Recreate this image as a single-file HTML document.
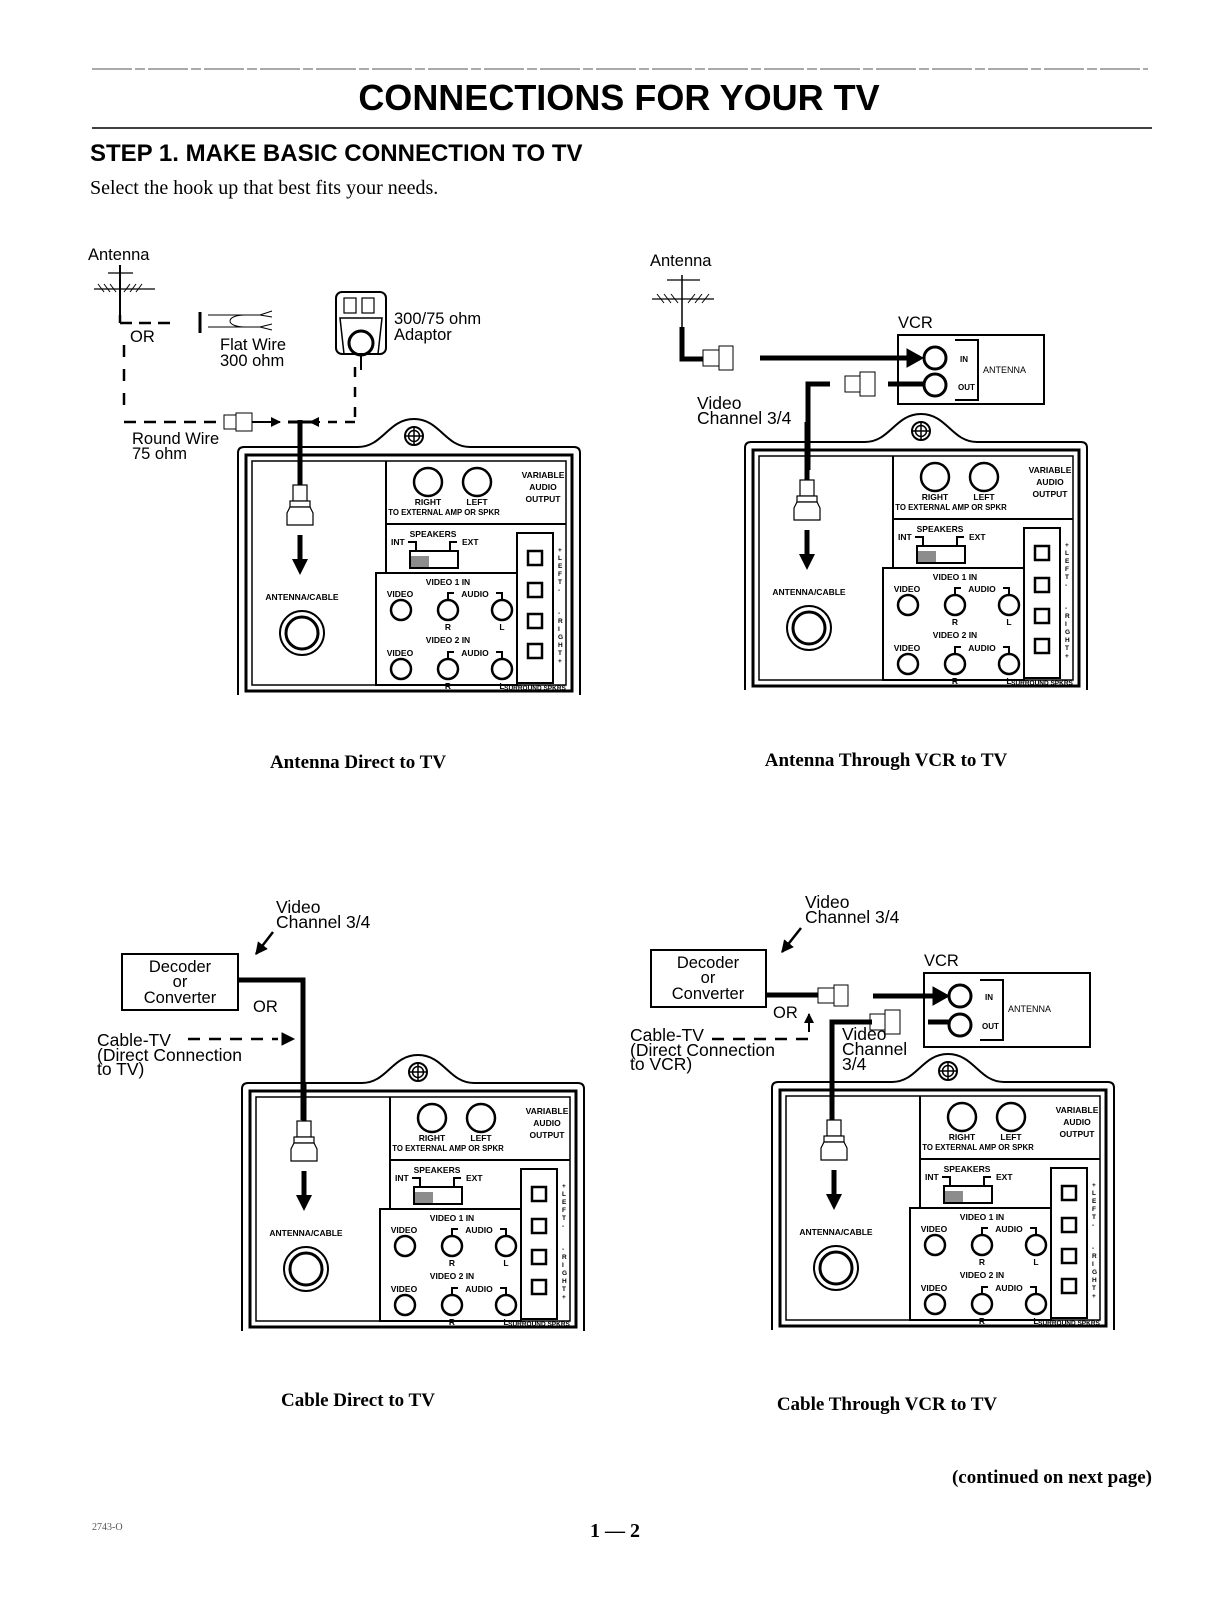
<!DOCTYPE html>
<html><head><meta charset="utf-8"><style>
html,body{margin:0;padding:0;background:#fff}
svg{display:block}
.s{font-family:"Liberation Sans",sans-serif}
.r{font-family:"Liberation Serif",serif}
.t text{font-size:8.5px}
.t text.sm{font-size:7.8px}
.t text.xs{font-size:6.5px}
.lb{font-size:16.5px}
.lb2{font-size:17.5px}
</style></head><body>
<svg width="1210" height="1604" viewBox="0 0 1210 1604" xmlns="http://www.w3.org/2000/svg">
<defs>
<marker id="ah" viewBox="0 0 10 10" refX="9" refY="5" markerWidth="5" markerHeight="5" orient="auto"><path d="M0 0L10 5L0 10z" fill="#000"/></marker>
</defs>
<!-- header -->
<line x1="92" y1="69" x2="1148" y2="69" stroke="#555" stroke-width="1" stroke-dasharray="40 3 10 3"/>
<text x="619" y="110" text-anchor="middle" class="s" font-size="36" font-weight="bold">CONNECTIONS FOR YOUR TV</text>
<line x1="92" y1="128" x2="1152" y2="128" stroke="#000" stroke-width="1.5"/>
<text x="90" y="161" class="s" font-size="24" font-weight="bold">STEP 1. MAKE BASIC CONNECTION TO TV</text>
<text x="90" y="194" class="r" font-size="20">Select the hook up that best fits your needs.</text>

<g class="s" fill="none" stroke="#000">
<!-- ===== Diagram 1 extras ===== -->
<text x="88" y="260" class="lb" fill="#000" stroke="none">Antenna</text>
<line x1="120" y1="265" x2="120" y2="315" stroke-width="2"/>
<line x1="108" y1="273" x2="133" y2="273" stroke-width="1.2"/>
<line x1="94" y1="289" x2="155" y2="289" stroke-width="1.2"/>
<path d="M98 284l6 8M104 284l6 8M110 284l6 8M124 292l6-8M130 292l6-8M136 292l6-8" stroke-width="1"/>
<path d="M120 323H175" stroke-width="2.5" stroke-dasharray="12 7"/>
<line x1="120" y1="323" x2="120" y2="315" stroke-width="2.5"/>
<line x1="200" y1="312" x2="200" y2="333" stroke-width="3"/>
<path d="M208 315H260M208 327H260M260 315l12-4M260 315l12 2M260 327l12-3M260 327l12 3M245 315c-20 0-20 12 0 12" stroke-width="1"/>
<text x="130" y="342" class="lb" fill="#000" stroke="none">OR</text>
<text x="220" y="350" class="lb" fill="#000" stroke="none">Flat Wire</text>
<text x="220" y="366" class="lb" fill="#000" stroke="none">300 ohm</text>
<path d="M124 345V408" stroke-width="2.5" stroke-dasharray="12 12"/>
<path d="M124 422H220" stroke-width="2.5" stroke-dasharray="12 8"/>
<rect x="224" y="415" width="12" height="14" stroke-width="1"/>
<rect x="236" y="413" width="16" height="18" stroke-width="1"/>
<line x1="252" y1="422" x2="280" y2="422" stroke-width="2" marker-end="url(#ah)"/>
<line x1="355" y1="367" x2="355" y2="422" stroke-width="2.5" stroke-dasharray="10 10"/>
<path d="M355 422H328" stroke-width="2.5" stroke-dasharray="10 8"/>
<line x1="320" y1="422" x2="310" y2="422" stroke-width="2" marker-end="url(#ah)"/>
<line x1="300" y1="420" x2="300" y2="485" stroke-width="5"/>
<line x1="288" y1="422" x2="312" y2="422" stroke-width="3"/>
<rect x="336" y="292" width="50" height="62" rx="6" stroke-width="2"/>
<rect x="344" y="298" width="12" height="15" stroke-width="1.2"/><rect x="362" y="298" width="12" height="15" stroke-width="1.2"/>
<path d="M340 318H382L378 354H344Z" stroke-width="1.5"/>
<circle cx="361" cy="343" r="12" stroke-width="3"/>
<line x1="361" y1="355" x2="361" y2="370" stroke-width="2"/>
<text x="394" y="324" class="lb" fill="#000" stroke="none">300/75 ohm</text>
<text x="394" y="340" class="lb" fill="#000" stroke="none">Adaptor</text>
<text x="132" y="444" class="lb" fill="#000" stroke="none">Round Wire</text>
<text x="132" y="459" class="lb" fill="#000" stroke="none">75 ohm</text>

<!-- ===== Diagram 2 extras ===== -->
<text x="650" y="266" class="lb" fill="#000" stroke="none">Antenna</text>
<line x1="682" y1="275" x2="682" y2="330" stroke-width="1.5"/>
<line x1="667" y1="280" x2="700" y2="280" stroke-width="1.2"/>
<line x1="652" y1="299" x2="714" y2="299" stroke-width="1.2"/>
<path d="M657 294l7 9M664 294l7 9M671 294l7 9M688 303l7-9M695 303l7-9M702 303l7-9" stroke-width="1"/>
<path d="M682 327V359H703" stroke-width="5"/>
<rect x="703" y="350" width="16" height="16" stroke-width="1"/>
<rect x="719" y="346" width="14" height="24" stroke-width="1"/>
<line x1="760" y1="358" x2="920" y2="358" stroke-width="5"/>
<polygon points="907,349 923,358 907,367" fill="#000"/>
<rect x="898" y="335" width="146" height="69" stroke-width="2"/>
<circle cx="935" cy="358" r="11" stroke-width="3"/>
<circle cx="935" cy="385" r="11" stroke-width="3"/>
<path d="M955 340H978V400H955" stroke-width="2"/>
<text x="960" y="362" font-size="8" font-weight="bold" fill="#000" stroke="none">IN</text>
<text x="958" y="390" font-size="8" font-weight="bold" fill="#000" stroke="none">OUT</text>
<text x="983" y="373" font-size="9" fill="#000" stroke="none">ANTENNA</text>
<text x="898" y="328" class="lb" fill="#000" stroke="none">VCR</text>
<line x1="888" y1="384" x2="924" y2="384" stroke-width="5"/>
<rect x="845" y="376" width="15" height="16" stroke-width="1"/>
<rect x="860" y="372" width="15" height="24" stroke-width="1"/>
<path d="M830 384H808V470" stroke-width="5"/>
<text x="697" y="409" class="lb2" fill="#000" stroke="none">Video</text>
<text x="697" y="424" class="lb2" fill="#000" stroke="none">Channel 3/4</text>

<!-- ===== Diagram 3 extras ===== -->
<text x="276" y="913" class="lb2" fill="#000" stroke="none">Video</text>
<text x="276" y="928" class="lb2" fill="#000" stroke="none">Channel 3/4</text>
<line x1="273" y1="932" x2="256" y2="954" stroke-width="2.5" marker-end="url(#ah)"/>
<rect x="122" y="954" width="116" height="56" stroke-width="2"/>
<text x="180" y="972" text-anchor="middle" class="lb" fill="#000" stroke="none">Decoder</text>
<text x="180" y="987" text-anchor="middle" class="lb" fill="#000" stroke="none">or</text>
<text x="180" y="1003" text-anchor="middle" class="lb" fill="#000" stroke="none">Converter</text>
<path d="M238 980H303V1120" stroke-width="5"/>
<text x="253" y="1012" class="lb" fill="#000" stroke="none">OR</text>
<text x="97" y="1046" class="lb2" fill="#000" stroke="none">Cable-TV</text>
<path d="M188 1039H278" stroke-width="2.5" stroke-dasharray="12 9"/>
<polygon points="282,1033 294,1039 282,1045" fill="#000"/>
<text x="97" y="1061" class="lb2" fill="#000" stroke="none">(Direct Connection</text>
<text x="97" y="1075" class="lb2" fill="#000" stroke="none">to TV)</text>

<!-- ===== Diagram 4 extras ===== -->
<text x="805" y="908" class="lb2" fill="#000" stroke="none">Video</text>
<text x="805" y="923" class="lb2" fill="#000" stroke="none">Channel 3/4</text>
<line x1="801" y1="928" x2="782" y2="952" stroke-width="2.5" marker-end="url(#ah)"/>
<rect x="651" y="950" width="115" height="57" stroke-width="2"/>
<text x="708" y="968" text-anchor="middle" class="lb" fill="#000" stroke="none">Decoder</text>
<text x="708" y="983" text-anchor="middle" class="lb" fill="#000" stroke="none">or</text>
<text x="708" y="999" text-anchor="middle" class="lb" fill="#000" stroke="none">Converter</text>
<line x1="766" y1="995" x2="818" y2="995" stroke-width="5"/>
<rect x="818" y="988" width="16" height="15" stroke-width="1"/>
<rect x="834" y="985" width="14" height="21" stroke-width="1"/>
<line x1="873" y1="996" x2="945" y2="996" stroke-width="5"/>
<polygon points="933,987 949,996 933,1005" fill="#000"/>
<rect x="924" y="973" width="166" height="74" stroke-width="2"/>
<circle cx="960" cy="996" r="11" stroke-width="3"/>
<circle cx="960" cy="1025" r="11" stroke-width="3"/>
<path d="M980 980H1003V1040H980" stroke-width="2"/>
<text x="985" y="1000" font-size="8" font-weight="bold" fill="#000" stroke="none">IN</text>
<text x="982" y="1029" font-size="8" font-weight="bold" fill="#000" stroke="none">OUT</text>
<text x="1008" y="1012" font-size="9" fill="#000" stroke="none">ANTENNA</text>
<text x="924" y="966" class="lb" fill="#000" stroke="none">VCR</text>
<line x1="928" y1="1022" x2="950" y2="1022" stroke-width="5"/>
<rect x="870" y="1014" width="15" height="16" stroke-width="1"/>
<rect x="885" y="1010" width="15" height="24" stroke-width="1"/>
<path d="M872 1022H832V1130" stroke-width="5"/>
<text x="773" y="1018" class="lb" fill="#000" stroke="none">OR</text>
<line x1="809" y1="1032" x2="809" y2="1014" stroke-width="2" marker-end="url(#ah)"/>
<path d="M712 1039H808V1030" stroke-width="2.5" stroke-dasharray="12 9"/>
<text x="630" y="1041" class="lb2" fill="#000" stroke="none">Cable-TV</text>
<text x="630" y="1056" class="lb2" fill="#000" stroke="none">(Direct Connection</text>
<text x="630" y="1070" class="lb2" fill="#000" stroke="none">to VCR)</text>
<text x="842" y="1040" class="lb2" fill="#000" stroke="none">Video</text>
<text x="842" y="1055" class="lb2" fill="#000" stroke="none">Channel</text>
<text x="842" y="1070" class="lb2" fill="#000" stroke="none">3/4</text>
</g>

<!-- ===== TV panels (4 copies) ===== -->
<g transform="translate(238,447)" class="s t" fill="none" stroke="#000">
<path d="M0 248V6Q0 0 6 0H120C145 0 150 -28 176 -28C202 -28 207 0 232 0H336Q342 0 342 6V248" stroke-width="2"/>
<rect x="8" y="8" width="326" height="236" stroke-width="3"/><rect x="14" y="14" width="314" height="224" stroke-width="1.5"/>
<circle cx="176" cy="-11" r="9" stroke-width="2"/><circle cx="176" cy="-11" r="5.5" stroke-width="1.5"/><path d="M176 -20V-2M167 -11H185" stroke-width="1.5"/>
<line x1="148" y1="14" x2="148" y2="126" stroke-width="2"/><line x1="148" y1="77" x2="328" y2="77" stroke-width="2"/>
<circle cx="190" cy="35" r="14" stroke-width="2.5"/><circle cx="239" cy="35" r="14" stroke-width="2.5"/>
<g fill="#000" stroke="none" font-weight="bold"><text x="305" y="31" text-anchor="middle">VARIABLE</text><text x="305" y="43" text-anchor="middle">AUDIO</text><text x="305" y="55" text-anchor="middle">OUTPUT</text><text x="190" y="58" text-anchor="middle">RIGHT</text><text x="239" y="58" text-anchor="middle">LEFT</text><text x="206" y="68" text-anchor="middle" class="sm">TO EXTERNAL AMP OR SPKR</text><text x="195" y="90" text-anchor="middle">SPEAKERS</text><text x="153" y="98">INT</text><text x="224" y="98">EXT</text><text x="210" y="138" text-anchor="middle">VIDEO 1 IN</text><text x="162" y="150" text-anchor="middle">VIDEO</text><text x="237" y="150" text-anchor="middle">AUDIO</text><text x="210" y="183" text-anchor="middle">R</text><text x="264" y="183" text-anchor="middle">L</text><text x="210" y="196" text-anchor="middle">VIDEO 2 IN</text><text x="162" y="209" text-anchor="middle">VIDEO</text><text x="237" y="209" text-anchor="middle">AUDIO</text><text x="210" y="242" text-anchor="middle">R</text><text x="264" y="242" text-anchor="middle">L</text><text x="297" y="243" text-anchor="middle" class="xs">SURROUND SPKRS</text><text x="64" y="153" text-anchor="middle">ANTENNA/CABLE</text><text x="320" y="105" class="xs">+</text><text x="320" y="113" class="xs">L</text><text x="320" y="121" class="xs">E</text><text x="320" y="129" class="xs">F</text><text x="320" y="137" class="xs">T</text><text x="320" y="145" class="xs">-</text><text x="320" y="168" class="xs">-</text><text x="320" y="176" class="xs">R</text><text x="320" y="184" class="xs">I</text><text x="320" y="192" class="xs">G</text><text x="320" y="200" class="xs">H</text><text x="320" y="208" class="xs">T</text><text x="320" y="216" class="xs">+</text></g>
<path d="M170 95H178V104M219 95H212V104" stroke-width="2"/>
<rect x="172" y="104" width="48" height="17" stroke-width="2"/><rect x="173" y="109" width="18" height="11" fill="#000" opacity="0.45" stroke="none"/>
<rect x="138" y="126" width="141" height="112" stroke-width="2"/>
<rect x="279" y="86" width="36" height="150" stroke-width="2"/>
<rect x="290" y="104" width="14" height="14" stroke-width="2.5"/><rect x="290" y="136" width="14" height="14" stroke-width="2.5"/><rect x="290" y="167" width="14" height="14" stroke-width="2.5"/><rect x="290" y="197" width="14" height="14" stroke-width="2.5"/>
<circle cx="163" cy="163" r="10" stroke-width="2.5"/><circle cx="210" cy="163" r="10" stroke-width="2.5"/><circle cx="264" cy="163" r="10" stroke-width="2.5"/>
<circle cx="163" cy="222" r="10" stroke-width="2.5"/><circle cx="210" cy="222" r="10" stroke-width="2.5"/><circle cx="264" cy="222" r="10" stroke-width="2.5"/>
<path d="M210 153V146H216M258 146H264V153M210 212V205H216M258 205H264V212" stroke-width="2"/>
<circle cx="64" cy="186" r="22" stroke-width="2"/><circle cx="64" cy="186" r="16" stroke-width="3"/>
<line x1="62" y1="-25" x2="62" y2="40" stroke-width="5"/>
<rect x="55" y="38" width="14" height="16" stroke-width="1.2" fill="#fff"/><rect x="52" y="54" width="20" height="6" stroke-width="1.2" fill="#fff"/><path d="M52 60L49 66V78H75V66L72 60Z" stroke-width="1.2" fill="#fff"/>
<line x1="62" y1="88" x2="62" y2="114" stroke-width="5"/><polygon points="54,112 70,112 62,128" fill="#000" stroke="none"/>
</g>

<g transform="translate(745,442)" class="s t" fill="none" stroke="#000">
<path d="M0 248V6Q0 0 6 0H120C145 0 150 -28 176 -28C202 -28 207 0 232 0H336Q342 0 342 6V248" stroke-width="2"/>
<rect x="8" y="8" width="326" height="236" stroke-width="3"/><rect x="14" y="14" width="314" height="224" stroke-width="1.5"/>
<circle cx="176" cy="-11" r="9" stroke-width="2"/><circle cx="176" cy="-11" r="5.5" stroke-width="1.5"/><path d="M176 -20V-2M167 -11H185" stroke-width="1.5"/>
<line x1="148" y1="14" x2="148" y2="126" stroke-width="2"/><line x1="148" y1="77" x2="328" y2="77" stroke-width="2"/>
<circle cx="190" cy="35" r="14" stroke-width="2.5"/><circle cx="239" cy="35" r="14" stroke-width="2.5"/>
<g fill="#000" stroke="none" font-weight="bold"><text x="305" y="31" text-anchor="middle">VARIABLE</text><text x="305" y="43" text-anchor="middle">AUDIO</text><text x="305" y="55" text-anchor="middle">OUTPUT</text><text x="190" y="58" text-anchor="middle">RIGHT</text><text x="239" y="58" text-anchor="middle">LEFT</text><text x="206" y="68" text-anchor="middle" class="sm">TO EXTERNAL AMP OR SPKR</text><text x="195" y="90" text-anchor="middle">SPEAKERS</text><text x="153" y="98">INT</text><text x="224" y="98">EXT</text><text x="210" y="138" text-anchor="middle">VIDEO 1 IN</text><text x="162" y="150" text-anchor="middle">VIDEO</text><text x="237" y="150" text-anchor="middle">AUDIO</text><text x="210" y="183" text-anchor="middle">R</text><text x="264" y="183" text-anchor="middle">L</text><text x="210" y="196" text-anchor="middle">VIDEO 2 IN</text><text x="162" y="209" text-anchor="middle">VIDEO</text><text x="237" y="209" text-anchor="middle">AUDIO</text><text x="210" y="242" text-anchor="middle">R</text><text x="264" y="242" text-anchor="middle">L</text><text x="297" y="243" text-anchor="middle" class="xs">SURROUND SPKRS</text><text x="64" y="153" text-anchor="middle">ANTENNA/CABLE</text><text x="320" y="105" class="xs">+</text><text x="320" y="113" class="xs">L</text><text x="320" y="121" class="xs">E</text><text x="320" y="129" class="xs">F</text><text x="320" y="137" class="xs">T</text><text x="320" y="145" class="xs">-</text><text x="320" y="168" class="xs">-</text><text x="320" y="176" class="xs">R</text><text x="320" y="184" class="xs">I</text><text x="320" y="192" class="xs">G</text><text x="320" y="200" class="xs">H</text><text x="320" y="208" class="xs">T</text><text x="320" y="216" class="xs">+</text></g>
<path d="M170 95H178V104M219 95H212V104" stroke-width="2"/>
<rect x="172" y="104" width="48" height="17" stroke-width="2"/><rect x="173" y="109" width="18" height="11" fill="#000" opacity="0.45" stroke="none"/>
<rect x="138" y="126" width="141" height="112" stroke-width="2"/>
<rect x="279" y="86" width="36" height="150" stroke-width="2"/>
<rect x="290" y="104" width="14" height="14" stroke-width="2.5"/><rect x="290" y="136" width="14" height="14" stroke-width="2.5"/><rect x="290" y="167" width="14" height="14" stroke-width="2.5"/><rect x="290" y="197" width="14" height="14" stroke-width="2.5"/>
<circle cx="163" cy="163" r="10" stroke-width="2.5"/><circle cx="210" cy="163" r="10" stroke-width="2.5"/><circle cx="264" cy="163" r="10" stroke-width="2.5"/>
<circle cx="163" cy="222" r="10" stroke-width="2.5"/><circle cx="210" cy="222" r="10" stroke-width="2.5"/><circle cx="264" cy="222" r="10" stroke-width="2.5"/>
<path d="M210 153V146H216M258 146H264V153M210 212V205H216M258 205H264V212" stroke-width="2"/>
<circle cx="64" cy="186" r="22" stroke-width="2"/><circle cx="64" cy="186" r="16" stroke-width="3"/>
<line x1="62" y1="-20" x2="62" y2="40" stroke-width="5"/>
<rect x="55" y="38" width="14" height="16" stroke-width="1.2" fill="#fff"/><rect x="52" y="54" width="20" height="6" stroke-width="1.2" fill="#fff"/><path d="M52 60L49 66V78H75V66L72 60Z" stroke-width="1.2" fill="#fff"/>
<line x1="62" y1="88" x2="62" y2="114" stroke-width="5"/><polygon points="54,112 70,112 62,128" fill="#000" stroke="none"/>
</g>

<g transform="translate(242,1083)" class="s t" fill="none" stroke="#000">
<path d="M0 248V6Q0 0 6 0H120C145 0 150 -28 176 -28C202 -28 207 0 232 0H336Q342 0 342 6V248" stroke-width="2"/>
<rect x="8" y="8" width="326" height="236" stroke-width="3"/><rect x="14" y="14" width="314" height="224" stroke-width="1.5"/>
<circle cx="176" cy="-11" r="9" stroke-width="2"/><circle cx="176" cy="-11" r="5.5" stroke-width="1.5"/><path d="M176 -20V-2M167 -11H185" stroke-width="1.5"/>
<line x1="148" y1="14" x2="148" y2="126" stroke-width="2"/><line x1="148" y1="77" x2="328" y2="77" stroke-width="2"/>
<circle cx="190" cy="35" r="14" stroke-width="2.5"/><circle cx="239" cy="35" r="14" stroke-width="2.5"/>
<g fill="#000" stroke="none" font-weight="bold"><text x="305" y="31" text-anchor="middle">VARIABLE</text><text x="305" y="43" text-anchor="middle">AUDIO</text><text x="305" y="55" text-anchor="middle">OUTPUT</text><text x="190" y="58" text-anchor="middle">RIGHT</text><text x="239" y="58" text-anchor="middle">LEFT</text><text x="206" y="68" text-anchor="middle" class="sm">TO EXTERNAL AMP OR SPKR</text><text x="195" y="90" text-anchor="middle">SPEAKERS</text><text x="153" y="98">INT</text><text x="224" y="98">EXT</text><text x="210" y="138" text-anchor="middle">VIDEO 1 IN</text><text x="162" y="150" text-anchor="middle">VIDEO</text><text x="237" y="150" text-anchor="middle">AUDIO</text><text x="210" y="183" text-anchor="middle">R</text><text x="264" y="183" text-anchor="middle">L</text><text x="210" y="196" text-anchor="middle">VIDEO 2 IN</text><text x="162" y="209" text-anchor="middle">VIDEO</text><text x="237" y="209" text-anchor="middle">AUDIO</text><text x="210" y="242" text-anchor="middle">R</text><text x="264" y="242" text-anchor="middle">L</text><text x="297" y="243" text-anchor="middle" class="xs">SURROUND SPKRS</text><text x="64" y="153" text-anchor="middle">ANTENNA/CABLE</text><text x="320" y="105" class="xs">+</text><text x="320" y="113" class="xs">L</text><text x="320" y="121" class="xs">E</text><text x="320" y="129" class="xs">F</text><text x="320" y="137" class="xs">T</text><text x="320" y="145" class="xs">-</text><text x="320" y="168" class="xs">-</text><text x="320" y="176" class="xs">R</text><text x="320" y="184" class="xs">I</text><text x="320" y="192" class="xs">G</text><text x="320" y="200" class="xs">H</text><text x="320" y="208" class="xs">T</text><text x="320" y="216" class="xs">+</text></g>
<path d="M170 95H178V104M219 95H212V104" stroke-width="2"/>
<rect x="172" y="104" width="48" height="17" stroke-width="2"/><rect x="173" y="109" width="18" height="11" fill="#000" opacity="0.45" stroke="none"/>
<rect x="138" y="126" width="141" height="112" stroke-width="2"/>
<rect x="279" y="86" width="36" height="150" stroke-width="2"/>
<rect x="290" y="104" width="14" height="14" stroke-width="2.5"/><rect x="290" y="136" width="14" height="14" stroke-width="2.5"/><rect x="290" y="167" width="14" height="14" stroke-width="2.5"/><rect x="290" y="197" width="14" height="14" stroke-width="2.5"/>
<circle cx="163" cy="163" r="10" stroke-width="2.5"/><circle cx="210" cy="163" r="10" stroke-width="2.5"/><circle cx="264" cy="163" r="10" stroke-width="2.5"/>
<circle cx="163" cy="222" r="10" stroke-width="2.5"/><circle cx="210" cy="222" r="10" stroke-width="2.5"/><circle cx="264" cy="222" r="10" stroke-width="2.5"/>
<path d="M210 153V146H216M258 146H264V153M210 212V205H216M258 205H264V212" stroke-width="2"/>
<circle cx="64" cy="186" r="22" stroke-width="2"/><circle cx="64" cy="186" r="16" stroke-width="3"/>
<line x1="62" y1="0" x2="62" y2="40" stroke-width="5"/>
<rect x="55" y="38" width="14" height="16" stroke-width="1.2" fill="#fff"/><rect x="52" y="54" width="20" height="6" stroke-width="1.2" fill="#fff"/><path d="M52 60L49 66V78H75V66L72 60Z" stroke-width="1.2" fill="#fff"/>
<line x1="62" y1="88" x2="62" y2="114" stroke-width="5"/><polygon points="54,112 70,112 62,128" fill="#000" stroke="none"/>
</g>

<g transform="translate(772,1082)" class="s t" fill="none" stroke="#000">
<path d="M0 248V6Q0 0 6 0H120C145 0 150 -28 176 -28C202 -28 207 0 232 0H336Q342 0 342 6V248" stroke-width="2"/>
<rect x="8" y="8" width="326" height="236" stroke-width="3"/><rect x="14" y="14" width="314" height="224" stroke-width="1.5"/>
<circle cx="176" cy="-11" r="9" stroke-width="2"/><circle cx="176" cy="-11" r="5.5" stroke-width="1.5"/><path d="M176 -20V-2M167 -11H185" stroke-width="1.5"/>
<line x1="148" y1="14" x2="148" y2="126" stroke-width="2"/><line x1="148" y1="77" x2="328" y2="77" stroke-width="2"/>
<circle cx="190" cy="35" r="14" stroke-width="2.5"/><circle cx="239" cy="35" r="14" stroke-width="2.5"/>
<g fill="#000" stroke="none" font-weight="bold"><text x="305" y="31" text-anchor="middle">VARIABLE</text><text x="305" y="43" text-anchor="middle">AUDIO</text><text x="305" y="55" text-anchor="middle">OUTPUT</text><text x="190" y="58" text-anchor="middle">RIGHT</text><text x="239" y="58" text-anchor="middle">LEFT</text><text x="206" y="68" text-anchor="middle" class="sm">TO EXTERNAL AMP OR SPKR</text><text x="195" y="90" text-anchor="middle">SPEAKERS</text><text x="153" y="98">INT</text><text x="224" y="98">EXT</text><text x="210" y="138" text-anchor="middle">VIDEO 1 IN</text><text x="162" y="150" text-anchor="middle">VIDEO</text><text x="237" y="150" text-anchor="middle">AUDIO</text><text x="210" y="183" text-anchor="middle">R</text><text x="264" y="183" text-anchor="middle">L</text><text x="210" y="196" text-anchor="middle">VIDEO 2 IN</text><text x="162" y="209" text-anchor="middle">VIDEO</text><text x="237" y="209" text-anchor="middle">AUDIO</text><text x="210" y="242" text-anchor="middle">R</text><text x="264" y="242" text-anchor="middle">L</text><text x="297" y="243" text-anchor="middle" class="xs">SURROUND SPKRS</text><text x="64" y="153" text-anchor="middle">ANTENNA/CABLE</text><text x="320" y="105" class="xs">+</text><text x="320" y="113" class="xs">L</text><text x="320" y="121" class="xs">E</text><text x="320" y="129" class="xs">F</text><text x="320" y="137" class="xs">T</text><text x="320" y="145" class="xs">-</text><text x="320" y="168" class="xs">-</text><text x="320" y="176" class="xs">R</text><text x="320" y="184" class="xs">I</text><text x="320" y="192" class="xs">G</text><text x="320" y="200" class="xs">H</text><text x="320" y="208" class="xs">T</text><text x="320" y="216" class="xs">+</text></g>
<path d="M170 95H178V104M219 95H212V104" stroke-width="2"/>
<rect x="172" y="104" width="48" height="17" stroke-width="2"/><rect x="173" y="109" width="18" height="11" fill="#000" opacity="0.45" stroke="none"/>
<rect x="138" y="126" width="141" height="112" stroke-width="2"/>
<rect x="279" y="86" width="36" height="150" stroke-width="2"/>
<rect x="290" y="104" width="14" height="14" stroke-width="2.5"/><rect x="290" y="136" width="14" height="14" stroke-width="2.5"/><rect x="290" y="167" width="14" height="14" stroke-width="2.5"/><rect x="290" y="197" width="14" height="14" stroke-width="2.5"/>
<circle cx="163" cy="163" r="10" stroke-width="2.5"/><circle cx="210" cy="163" r="10" stroke-width="2.5"/><circle cx="264" cy="163" r="10" stroke-width="2.5"/>
<circle cx="163" cy="222" r="10" stroke-width="2.5"/><circle cx="210" cy="222" r="10" stroke-width="2.5"/><circle cx="264" cy="222" r="10" stroke-width="2.5"/>
<path d="M210 153V146H216M258 146H264V153M210 212V205H216M258 205H264V212" stroke-width="2"/>
<circle cx="64" cy="186" r="22" stroke-width="2"/><circle cx="64" cy="186" r="16" stroke-width="3"/>
<line x1="60" y1="0" x2="60" y2="40" stroke-width="5"/>
<rect x="55" y="38" width="14" height="16" stroke-width="1.2" fill="#fff"/><rect x="52" y="54" width="20" height="6" stroke-width="1.2" fill="#fff"/><path d="M52 60L49 66V78H75V66L72 60Z" stroke-width="1.2" fill="#fff"/>
<line x1="62" y1="88" x2="62" y2="114" stroke-width="5"/><polygon points="54,112 70,112 62,128" fill="#000" stroke="none"/>
</g>

<!-- captions -->
<g class="r" font-weight="bold" font-size="19" fill="#000">
<text x="358" y="768" text-anchor="middle">Antenna Direct to TV</text>
<text x="886" y="766" text-anchor="middle">Antenna Through VCR to TV</text>
<text x="358" y="1406" text-anchor="middle">Cable Direct to TV</text>
<text x="887" y="1410" text-anchor="middle">Cable Through VCR to TV</text>
<text x="1152" y="1483" text-anchor="end">(continued on next page)</text>
<text x="615" y="1537" text-anchor="middle" font-size="20">1 — 2</text>
</g>
<text x="92" y="1530" class="r" font-size="10" fill="#555">2743-O</text>
</svg>
</body></html>
